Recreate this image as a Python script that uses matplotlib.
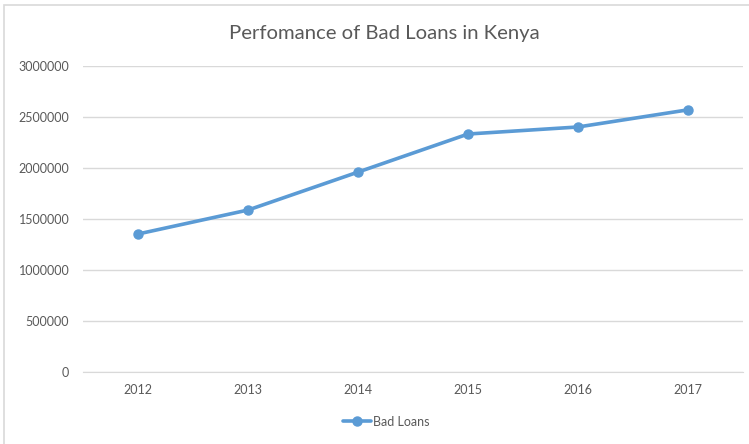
import matplotlib.pyplot as plt
from matplotlib.patches import Rectangle

# Данные
years = ["2012", "2013", "2014", "2015", "2016", "2017"]
bad_loans = [1353000, 1588000, 1960000, 2333000, 2402000, 2570000]
y_ticks = [0, 500000, 1000000, 1500000, 2000000, 2500000, 3000000]

plt.rcParams["font.family"] = ["Lato", "DejaVu Sans"]

fig = plt.figure(figsize=(7.49, 4.44), dpi=100)
ax = fig.add_axes([0.111, 0.1622, 0.881, 0.6892])

# Рамка вокруг всей диаграммы
fig.patches.append(Rectangle((0.006, -0.01), 1.1, 0.998,
                             transform=fig.transFigure, fill=False,
                             edgecolor="#d9d9d9", linewidth=1.2))

x = range(len(years))
ax.plot(x, bad_loans, color="#5b9bd5", linewidth=2.6, marker="o",
        markersize=6.5, label="Bad Loans", solid_capstyle="round")

ax.set_xlim(-0.5, len(years) - 0.5)
ax.set_ylim(0, 3000000)
ax.set_yticks(y_ticks)
ax.set_yticklabels([str(v) for v in y_ticks])
ax.set_xticks(list(x))
ax.set_xticklabels(years)

ax.grid(axis="y", color="#d9d9d9", linewidth=1)
ax.set_axisbelow(True)
for side in ["top", "right", "left"]:
    ax.spines[side].set_visible(False)
ax.spines["bottom"].set_color("#d9d9d9")
ax.tick_params(axis="both", length=0, colors="#595959", labelsize=9)
ax.tick_params(axis="y", pad=10)
ax.tick_params(axis="x", pad=9)

fig.text(0.513, 0.925, "Perfomance of Bad Loans in Kenya", ha="center",
         va="center", fontsize=14.6, color="#595959")

ax.legend(loc="center", bbox_to_anchor=(0.516, 0.05),
          bbox_transform=fig.transFigure, frameon=False, fontsize=9,
          labelcolor="#595959", handlelength=2.2, handletextpad=0.2)

plt.savefig("out.png", dpi=100)
plt.close()
